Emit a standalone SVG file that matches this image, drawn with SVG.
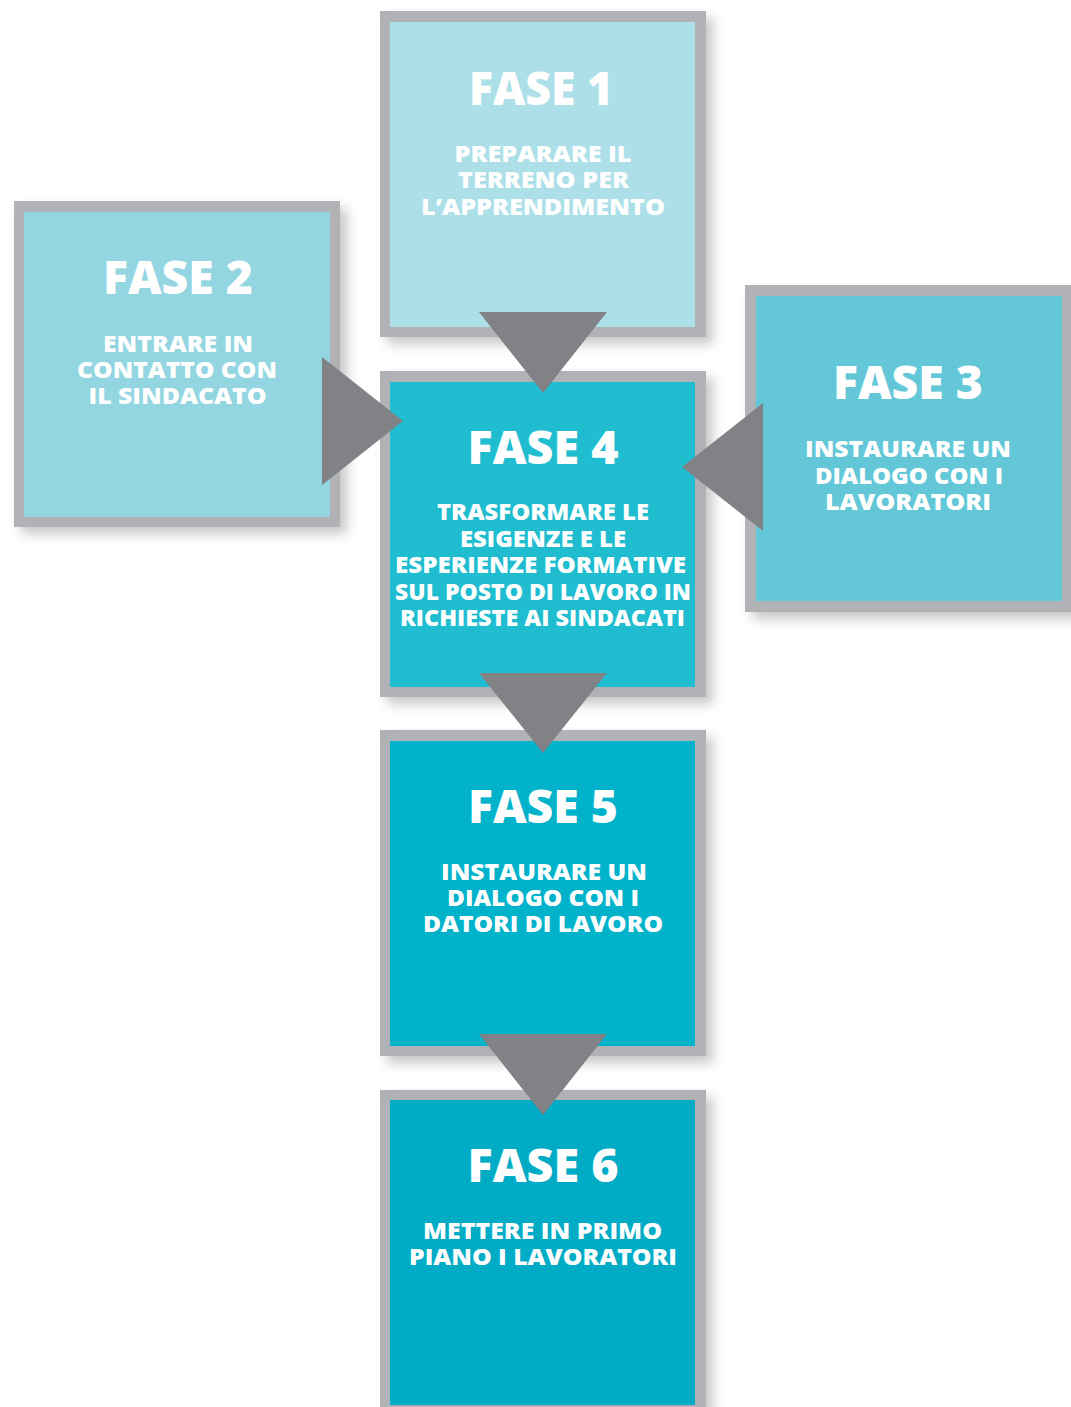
<svg xmlns="http://www.w3.org/2000/svg" width="1071" height="1407" viewBox="0 0 1071 1407">
<defs>
<filter id="sh" x="-10%" y="-10%" width="130%" height="130%">
<feDropShadow dx="7" dy="7" stdDeviation="6" flood-color="#000" flood-opacity="0.22"/>
</filter>
<style>
.frame{fill:#b1b2b6;}
.t{font-family:"Open Sans","Liberation Sans",sans-serif;font-weight:800;fill:#ffffff;text-anchor:middle;}
.h{font-size:46px;}
.s{font-size:23px;}
.arr{fill:#818286;}
</style>
</defs>
<rect width="1071" height="1407" fill="#ffffff"/>
<g id="fase1">
<rect class="frame" x="380" y="11" width="326" height="326" filter="url(#sh)"/>
<rect x="390" y="22" width="305" height="305" fill="#addfe8"/>
<text class="t h" x="541" y="105" textLength="144" lengthAdjust="spacingAndGlyphs">FASE 1</text>
<text class="t s" x="543" y="162" textLength="177" lengthAdjust="spacingAndGlyphs">PREPARARE IL</text>
<text class="t s" x="543.5" y="188" textLength="171" lengthAdjust="spacingAndGlyphs">TERRENO PER</text>
<text class="t s" x="543" y="215" textLength="244" lengthAdjust="spacingAndGlyphs">L’APPRENDIMENTO</text>
</g>
<g id="fase2">
<rect class="frame" x="14" y="201" width="326" height="326" filter="url(#sh)"/>
<rect x="24" y="212" width="306" height="305" fill="#93d5e1"/>
<text class="t h" x="178" y="294" textLength="150" lengthAdjust="spacingAndGlyphs">FASE 2</text>
<text class="t s" x="178" y="352" textLength="150" lengthAdjust="spacingAndGlyphs">ENTRARE IN</text>
<text class="t s" x="177" y="378" textLength="200" lengthAdjust="spacingAndGlyphs">CONTATTO CON</text>
<text class="t s" x="177.5" y="404" textLength="178" lengthAdjust="spacingAndGlyphs">IL SINDACATO</text>
</g>
<g id="fase3">
<rect class="frame" x="745" y="285" width="330" height="327" filter="url(#sh)"/>
<rect x="756" y="296" width="306" height="305" fill="#63c7d8"/>
<text class="t h" x="908" y="399" textLength="150" lengthAdjust="spacingAndGlyphs">FASE 3</text>
<text class="t s" x="908" y="457" textLength="206" lengthAdjust="spacingAndGlyphs">INSTAURARE UN</text>
<text class="t s" x="909" y="484" textLength="188" lengthAdjust="spacingAndGlyphs">DIALOGO CON I</text>
<text class="t s" x="908" y="510" textLength="166" lengthAdjust="spacingAndGlyphs">LAVORATORI</text>
</g>
<g id="fase4">
<rect class="frame" x="380" y="371" width="326" height="326" filter="url(#sh)"/>
<rect x="390" y="382" width="305" height="305" fill="#20bdd0"/>
<text class="t h" x="543" y="464" textLength="151" lengthAdjust="spacingAndGlyphs">FASE 4</text>
<text class="t s" x="543" y="520" textLength="212" lengthAdjust="spacingAndGlyphs">TRASFORMARE LE</text>
<text class="t s" x="543" y="547" textLength="166" lengthAdjust="spacingAndGlyphs">ESIGENZE E LE</text>
<text class="t s" x="540.5" y="573" textLength="291" lengthAdjust="spacingAndGlyphs">ESPERIENZE FORMATIVE</text>
<text class="t s" x="543" y="600" textLength="296" lengthAdjust="spacingAndGlyphs">SUL POSTO DI LAVORO IN</text>
<text class="t s" x="542.5" y="626" textLength="285" lengthAdjust="spacingAndGlyphs">RICHIESTE AI SINDACATI</text>
</g>
<g id="fase5">
<rect class="frame" x="380" y="730" width="326" height="326" filter="url(#sh)"/>
<rect x="390" y="741" width="305" height="305" fill="#00b2ca"/>
<text class="t h" x="543" y="823" textLength="150" lengthAdjust="spacingAndGlyphs">FASE 5</text>
<text class="t s" x="544" y="880" textLength="206" lengthAdjust="spacingAndGlyphs">INSTAURARE UN</text>
<text class="t s" x="543" y="906" textLength="192" lengthAdjust="spacingAndGlyphs">DIALOGO CON I</text>
<text class="t s" x="543" y="932" textLength="240" lengthAdjust="spacingAndGlyphs">DATORI DI LAVORO</text>
</g>
<g id="fase6">
<rect class="frame" x="380" y="1090" width="326" height="326" filter="url(#sh)"/>
<rect x="390" y="1100" width="305" height="305" fill="#00abc5"/>
<text class="t h" x="543" y="1182" textLength="151" lengthAdjust="spacingAndGlyphs">FASE 6</text>
<text class="t s" x="542.5" y="1239" textLength="239" lengthAdjust="spacingAndGlyphs">METTERE IN PRIMO</text>
<text class="t s" x="543" y="1265" textLength="268" lengthAdjust="spacingAndGlyphs">PIANO I LAVORATORI</text>
</g>
<g id="connectors">
<polygon class="arr" points="479,312 607,312 543,393"/>
<polygon class="arr" points="322,357 322,485 403,421"/>
<polygon class="arr" points="763,403 763,531 682,467"/>
<polygon class="arr" points="479,673 607,673 543,753"/>
<polygon class="arr" points="479,1034 607,1034 543,1115"/>
</g>
</svg>
